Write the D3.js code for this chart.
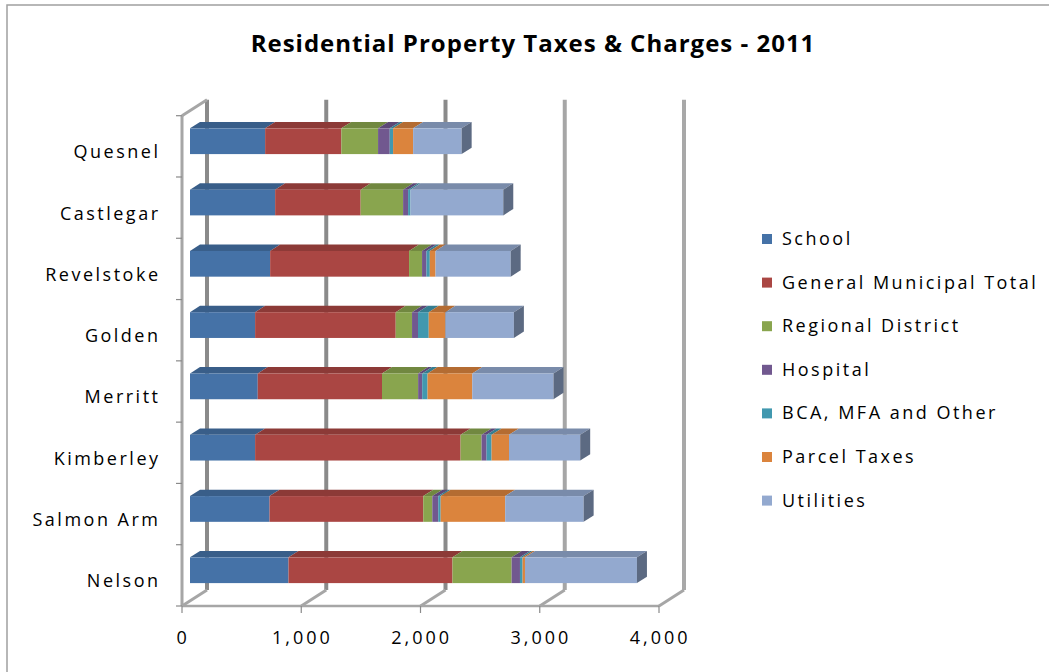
<!DOCTYPE html>
<html>
<head>
<meta charset="utf-8">
<script src="https://cdn.jsdelivr.net/npm/d3@7"></script>
<style>
  html, body { margin: 0; padding: 0; background: #fff; }
  svg { display: block; }
  text { font-family: "Open Sans", "DejaVu Sans", sans-serif; fill: #000; }
</style>
</head>
<body>
<svg id="chart" width="1049" height="672"></svg>
<script>
// Municipalities, top to bottom
const categories = ["Quesnel", "Castlegar", "Revelstoke", "Golden", "Merritt", "Kimberley", "Salmon Arm", "Nelson"];

// Components of the residential bill ($), one value per municipality
const school    = [630, 714, 672, 546, 568, 546, 667, 826];
const municipal = [639, 717, 1165, 1179, 1042, 1723, 1289, 1375];
const regional  = [308, 356, 109, 137, 303, 176, 76, 496];
const hospital  = [98, 42, 37, 50, 34, 42, 50, 70];
const bcaOther  = [28, 20, 28, 90, 45, 42, 20, 22];
const parcel    = [168, 0, 48, 140, 375, 146, 541, 20];
const utilities = [407, 778, 630, 574, 681, 597, 658, 939];

const seriesNames = ["School", "General Municipal Total", "Regional District", "Hospital",
                     "BCA, MFA and Other", "Parcel Taxes", "Utilities"];
const seriesValues = [school, municipal, regional, hospital, bcaOther, parcel, utilities];
const seriesColors = ["#4572A7", "#AA4643", "#89A54E", "#71588F", "#4198AF", "#DB843D", "#93A9CF"];

const xTicks = [0, 1000, 2000, 3000, 4000];
const title = "Residential Property Taxes & Charges - 2011";

const svg = d3.select("#chart");
const labelSize = 18, labelSpacing = 2.5;

// Outer chart frame
svg.append("rect")
  .attr("x", 7).attr("y", 5).attr("width", 1100).attr("height", 700)
  .attr("fill", "#fff").attr("stroke", "#a0a0a0").attr("stroke-width", 1.5);

// Title
svg.append("text")
  .attr("x", 533).attr("y", 52)
  .attr("text-anchor", "middle")
  .attr("font-size", 24).attr("font-weight", "bold")
  .attr("letter-spacing", 1.0)
  .text(title);

// Front plane scales (floor front edge / left wall front edge)
const x = d3.scaleLinear().domain([0, 4000]).range([182, 659]);
const y = d3.scaleBand().domain(categories).range([115.7, 606])
  .paddingInner(0.58).paddingOuter(0.29);

// Oblique depth: offset of the back wall relative to the front plane
const depthX = 25, depthY = 16;
const proj = (v, z) => x(v) + z * depthX;   // x at depth z (0 = front, 1 = back)
const yTop = 115.7, yBot = 606;

const g = svg.append("g");

// Back wall gridlines
const gridColors = ["#8a8a8a", "#8a8a8a", "#8a8a8a", "#a6a6a6", "#a8a8a8"];
g.selectAll("line.grid").data(xTicks).join("line")
  .attr("class", "grid")
  .attr("x1", d => proj(d, 1)).attr("x2", d => proj(d, 1))
  .attr("y1", yTop - depthY).attr("y2", yBot - depthY)
  .attr("stroke", (d, i) => gridColors[i]).attr("stroke-width", 4);

// Floor: diagonal lines from front ticks back to the wall
g.selectAll("line.floorDiag").data(xTicks).join("line")
  .attr("class", "floorDiag")
  .attr("x1", d => x(d)).attr("y1", yBot)
  .attr("x2", d => proj(d, 1)).attr("y2", yBot - depthY)
  .attr("stroke", "#a6a6a6").attr("stroke-width", 3);

// Floor front edge and its ticks
g.append("line")
  .attr("x1", x(0)).attr("x2", x(4000)).attr("y1", yBot).attr("y2", yBot)
  .attr("stroke", "#a6a6a6").attr("stroke-width", 2.5);
g.selectAll("line.xtick").data(xTicks).join("line")
  .attr("class", "xtick")
  .attr("x1", d => x(d)).attr("x2", d => x(d))
  .attr("y1", yBot).attr("y2", yBot + 7)
  .attr("stroke", "#8a8a8a").attr("stroke-width", 1.2);

// Left wall front edge, top edge and category tick marks
g.append("line")
  .attr("x1", x(0)).attr("x2", x(0)).attr("y1", yTop).attr("y2", yBot)
  .attr("stroke", "#a6a6a6").attr("stroke-width", 3);
g.append("line")
  .attr("x1", x(0)).attr("y1", yTop).attr("x2", proj(0, 1)).attr("y2", yTop - depthY)
  .attr("stroke", "#a6a6a6").attr("stroke-width", 3);
const step = y.step();
const boundaries = d3.range(categories.length + 1).map(i => yTop + i * step);
g.selectAll("line.ytick").data(boundaries).join("line")
  .attr("class", "ytick")
  .attr("x1", x(0) - 6).attr("x2", x(0))
  .attr("y1", d => d).attr("y2", d => d)
  .attr("stroke", "#8a8a8a").attr("stroke-width", 1.2);

// Stacked 3D bars
const zFront = 0.32, zBack = 0.72;
const bdx = (zBack - zFront) * depthX, bdy = (zBack - zFront) * depthY;
const stackData = categories.map((c, i) => {
  let acc = 0;
  return seriesValues.map((vals, s) => {
    const seg = { cat: c, s, v0: acc, v1: acc + vals[i] };
    acc += vals[i];
    return seg;
  });
});

const bars = g.append("g");
stackData.forEach((segs, i) => {
  const cat = categories[i];
  const top = y(cat) - zFront * depthY;
  const bot = top + y.bandwidth();
  const row = bars.append("g");
  segs.filter(d => d.v1 > d.v0).forEach(d => {
    const x0 = proj(d.v0, zFront), x1 = proj(d.v1, zFront);
    const col = d3.color(seriesColors[d.s]);
    // top face
    row.append("path")
      .attr("d", `M${x0},${top}L${x0 + bdx},${top - bdy}L${x1 + bdx},${top - bdy}L${x1},${top}Z`)
      .attr("fill", col.darker(0.55));
    // front face
    row.append("rect")
      .attr("x", x0).attr("y", top).attr("width", x1 - x0).attr("height", bot - top)
      .attr("fill", col);
  });
  // right end face of the last segment
  const last = segs[segs.length - 1];
  const xe = proj(last.v1, zFront);
  row.append("path")
    .attr("d", `M${xe},${top}L${xe + bdx},${top - bdy}L${xe + bdx},${bot - bdy}L${xe},${bot}Z`)
    .attr("fill", d3.color(seriesColors[last.s]).darker(1.3));
});

// Category labels
svg.selectAll("text.cat").data(categories).join("text")
  .attr("class", "cat")
  .attr("x", 158 + labelSpacing)
  .attr("y", d => y(d) + y.bandwidth() / 2 + 12)
  .attr("text-anchor", "end")
  .attr("font-size", labelSize).attr("letter-spacing", labelSpacing)
  .text(d => d);

// Value axis labels
svg.selectAll("text.xlab").data(xTicks).join("text")
  .attr("class", "xlab")
  .attr("x", d => x(d) + labelSpacing / 2)
  .attr("y", 644)
  .attr("text-anchor", "middle")
  .attr("font-size", labelSize).attr("letter-spacing", labelSpacing + 0.5)
  .text(d => d3.format(",")(d));

// Legend
const legend = svg.append("g");
const legY = i => 239 + i * 43.6;
legend.selectAll("rect").data(seriesNames).join("rect")
  .attr("x", 762).attr("y", (d, i) => legY(i) - 5)
  .attr("width", 10).attr("height", 10)
  .attr("fill", (d, i) => seriesColors[i]);
legend.selectAll("text").data(seriesNames).join("text")
  .attr("x", 782).attr("y", (d, i) => legY(i) + 6)
  .attr("font-size", labelSize).attr("letter-spacing", labelSpacing)
  .text(d => d);
</script>
</body>
</html>
